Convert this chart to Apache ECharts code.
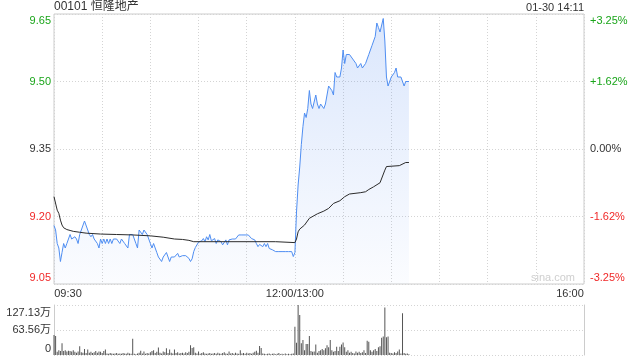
<!DOCTYPE html>
<html>
<head>
<meta charset="utf-8">
<script src="https://cdn.jsdelivr.net/npm/echarts@6/dist/echarts.min.js"></script>
<style>html,body{margin:0;padding:0;background:#fff;}#c{width:640px;height:360px;}</style>
</head>
<body>
<div id="c"></div>
<script>
// ---- data ----
const title = '00101 恒隆地产';
const timeStamp = '01-30 14:11';
const watermark = 'sina.com';
const priceTicks = ['9.05', '9.20', '9.35', '9.50', '9.65'];
const pctTicks = ['-3.25%', '-1.62%', '0.00%', '+1.62%', '+3.25%'];
const volTicks = ['0', '63.56万', '127.13万'];
const xTickLabels = { 0: '09:30', 150: '12:00/13:00', 330: '16:00' };
const priceBase = 9.05;   // bottom of price axis
const priceTop = 9.65;    // top of price axis
const volMax = 127.13;    // 万

// minute prices 09:30 .. 10:44 (minutes 0-74)
const priceAM1 = [9.18,9.17,9.14,9.13,9.10,9.12,9.14,9.13,9.14,9.14,
 9.16,9.15,9.15,9.155,9.15,9.14,9.16,9.17,9.17,9.19,
 9.19,9.17,9.16,9.155,9.16,9.15,9.15,9.14,9.13,9.15,
 9.14,9.15,9.14,9.15,9.14,9.15,9.14,9.15,9.15,9.15,
 9.15,9.14,9.15,9.15,9.14,9.14,9.13,9.16,9.16,9.16,
 9.15,9.14,9.13,9.17,9.17,9.16,9.17,9.17,9.16,9.15,
 9.14,9.13,9.14,9.13,9.12,9.11,9.11,9.10,9.11,9.11,
 9.12,9.11,9.10,9.11,9.11];
// minutes 75-150
const priceAM2 = [9.11,9.113,9.118,9.11,9.113,9.113,9.113,9.113,9.113,9.107,
 9.10,9.106,9.122,9.131,9.134,9.143,9.146,9.146,9.151,9.144,
 9.155,9.148,9.16,9.146,9.148,9.151,9.14,9.148,9.151,9.144,
 9.137,9.133,9.148,9.137,9.148,9.15,9.15,9.15,9.15,9.151,
 9.159,9.159,9.159,9.159,9.159,9.159,9.159,9.159,9.151,9.151,
 9.148,9.14,9.133,9.138,9.137,9.133,9.14,9.133,9.14,9.129,
 9.133,9.126,9.122,9.122,9.122,9.122,9.122,9.122,9.122,9.122,
 9.122,9.122,9.122,9.122,9.111,9.12];
// minutes 151-221 (13:01 .. 14:11)
const pricePM = [9.21,9.27,9.31,9.36,9.40,9.43,9.42,9.44,9.48,9.45,
 9.44,9.44,9.47,9.45,9.44,9.45,9.45,9.44,9.45,9.47,
 9.49,9.49,9.48,9.47,9.52,9.51,9.51,9.51,9.53,9.57,
 9.54,9.56,9.56,9.56,9.56,9.55,9.55,9.54,9.53,9.53,
 9.54,9.53,9.53,9.54,9.55,9.56,9.57,9.58,9.59,9.60,
 9.63,9.62,9.61,9.61,9.64,9.59,9.51,9.49,9.49,9.51,
 9.51,9.52,9.53,9.51,9.51,9.51,9.51,9.49,9.50,9.50,9.50];

// average price line
const avgMin = [0,2,3,4,5,6,8,10,12,16,20,29,39,49,60,68,75,80,84,87,
 138,150,151,152,153,156,159,164,168,171,174,178,181,184,191,194,196,199,203,206,
 207,215,219,221];
const avgVal = [9.244,9.214,9.207,9.192,9.181,9.175,9.171,9.169,9.167,9.165,
 9.163,9.161,9.160,9.159,9.157,9.154,9.150,9.149,9.147,9.144,
 9.144,9.142,9.15,9.166,9.172,9.181,9.196,9.206,9.212,9.218,
 9.229,9.235,9.244,9.250,9.253,9.255,9.260,9.266,9.275,9.303,
 9.311,9.313,9.320,9.320];

// volume per minute (万)
const volume = [51,48,8,12,10,30,10,12,9,11,
 10,9,12,8,6,9,22,7,6,15,
 5,14,6,8,5,7,10,6,9,8,
 5,10,14,4,3,5,4,3,4,5,
 3,4,3,5,4,3,6,4,3,41,
 3,2,4,6,11,4,9,3,5,4,
 7,10,12,5,8,19,6,4,9,7,
 17,5,14,6,4,14,5,7,4,5,
 6,4,7,5,8,25,18,20,6,4,
 9,3,5,7,4,3,4,5,3,4,
 5,3,6,4,3,5,7,4,3,9,
 4,5,3,6,4,3,12,4,5,3,
 6,4,5,3,6,8,11,6,23,18,
 4,3,2,3,4,2,3,4,2,3,
 5,2,3,2,4,2,3,2,3,4,
 72,31,127.13,102,30,38,12,28,28,48,
 10,8,9,27,6,10,12,15,12,17,
 25,20,38,12,8,10,21,10,21,27,
 32,20,8,12,6,8,5,4,9,6,
 8,5,7,12,5,36,34,12,8,12,
 15,10,20,22,44,47,121,45,47,6,
 5,4,7,5,9,14,4,106,5,3,
 4,2];

// ---- build ----
const prices = priceAM1.concat(priceAM2, pricePM);
const toY = p => (p - priceBase) * 100;
const yMax = Math.round((priceTop - priceBase) * 100);
const yStep = yMax / (priceTicks.length - 1);
const priceData = prices.map((p, i) => [i, toY(p)]);
const avgData = avgMin.map((m, i) => [m, toY(avgVal[i])]);
const volData = volume.map((v, i) => [i, v]);

const FONT = '"Liberation Sans", Arial, "Noto Sans CJK SC", sans-serif';
const GREEN = '#1aa51a', RED = '#f02828', DARK = '#333';
const GRID_LINE = { lineStyle: { color: '#d4d4d4', type: [1, 2], width: 1 } };

function lab(color, extra) {
  return Object.assign({ color: color, fontSize: 11, fontFamily: FONT }, extra || {});
}
const yRich = {
  rBot: lab(RED, { padding: [0, 0, 13, 0] }),
  r: lab(RED),
  k: lab(DARK),
  g: lab(GREEN),
  gTop: lab(GREEN, { padding: [13, 0, 0, 0] })
};
function yFmt(arr) {
  return function (v) {
    const i = Math.round(v / yStep);
    const cls = ['rBot', 'r', 'k', 'g', 'gTop'][i];
    return '{' + cls + '|' + arr[i] + '}';
  };
}

const chart = echarts.init(document.getElementById('c'), null, { renderer: 'canvas' });
chart.setOption({
  animation: false,
  backgroundColor: '#fff',
  title: {
    text: title, left: 54, top: 1, padding: 0,
    textStyle: { fontSize: 12, fontWeight: 'normal', color: DARK, fontFamily: FONT }
  },
  graphic: [
    { type: 'text', right: 56, top: 2, style: { text: timeStamp, fill: DARK, font: '11px ' + FONT } },
    { type: 'text', left: 531, top: 272, z: 0, style: { text: watermark, fill: '#cfcfcf', font: '11px ' + FONT } }
  ],
  grid: [
    { left: 54, right: 56, top: 14, height: 270, show: true, borderColor: '#cccccc', borderWidth: 1 },
    { left: 54, right: 56, top: 305, height: 50 }
  ],
  xAxis: [
    {
      type: 'value', gridIndex: 0, min: 0, max: 330, interval: 30,
      axisLine: { show: false }, axisTick: { show: false },
      splitLine: Object.assign({ show: true }, GRID_LINE),
      axisLabel: {
        margin: 4, showMinLabel: true, showMaxLabel: true,
        formatter: function (v) {
          const t = xTickLabels[v];
          if (!t) return '';
          if (v === 0) return '{l|' + t + '}';
          if (v === 330) return '{rr|' + t + '}';
          return '{c|' + t + '}';
        },
        rich: {
          l: lab(DARK, { padding: [0, 0, 0, 28] }),
          rr: lab(DARK, { padding: [0, 28, 0, 0] }),
          c: lab(DARK)
        }
      }
    },
    {
      type: 'value', gridIndex: 1, min: 0, max: 330, interval: 30,
      axisLine: { show: false }, axisTick: { show: false },
      splitLine: { show: false }, axisLabel: { show: false }
    }
  ],
  yAxis: [
    {
      type: 'value', gridIndex: 0, min: 0, max: yMax, interval: yStep,
      axisLine: { show: false }, axisTick: { show: false },
      splitLine: Object.assign({ show: true }, GRID_LINE),
      axisLabel: { margin: 3, formatter: yFmt(priceTicks), rich: yRich, showMinLabel: true, showMaxLabel: true }
    },
    {
      type: 'value', gridIndex: 0, position: 'right', min: 0, max: yMax, interval: yStep,
      axisLine: { show: false }, axisTick: { show: false },
      splitLine: { show: false },
      axisLabel: { margin: 6, formatter: yFmt(pctTicks), rich: yRich, showMinLabel: true, showMaxLabel: true }
    },
    {
      type: 'value', gridIndex: 1, min: 0, max: volMax, interval: volMax / 2,
      axisLine: { show: true, lineStyle: { color: '#cccccc' } }, axisTick: { show: false },
      splitLine: Object.assign({ show: true }, GRID_LINE),
      axisLabel: {
        margin: 3, showMinLabel: true, showMaxLabel: true,
        formatter: function (v) {
          const i = Math.round(v / (volMax / 2));
          const cls = ['b', 'm', 't'][i];
          return '{' + cls + '|' + volTicks[i] + '}';
        },
        rich: {
          b: lab(DARK, { padding: [0, 0, 12, 0] }),
          m: lab(DARK),
          t: lab(DARK, { padding: [15, 0, 0, 0] })
        }
      }
    },
    {
      type: 'value', gridIndex: 1, position: 'right', min: 0, max: volMax, interval: volMax / 2,
      axisLine: { show: true, lineStyle: { color: '#cccccc' } }, axisTick: { show: false },
      splitLine: { show: false }, axisLabel: { show: false }
    }
  ],
  series: [
    {
      type: 'line', xAxisIndex: 0, yAxisIndex: 0, data: priceData,
      showSymbol: false, symbol: 'none', smooth: false,
      lineStyle: { color: '#4f8ef2', width: 1 },
      areaStyle: {
        origin: 'start',
        color: new echarts.graphic.LinearGradient(0, 0, 0, 1, [
          { offset: 0, color: 'rgba(70,130,240,0.28)' },
          { offset: 1, color: 'rgba(70,130,240,0.03)' }
        ])
      },
      z: 2
    },
    {
      type: 'line', xAxisIndex: 0, yAxisIndex: 0, data: avgData,
      showSymbol: false, symbol: 'none', smooth: false,
      lineStyle: { color: '#2b2b2b', width: 1 },
      z: 3
    },
    {
      type: 'bar', xAxisIndex: 1, yAxisIndex: 2, data: volData,
      barWidth: 1, itemStyle: { color: '#555555' }
    }
  ]
});
</script>
</body>
</html>
